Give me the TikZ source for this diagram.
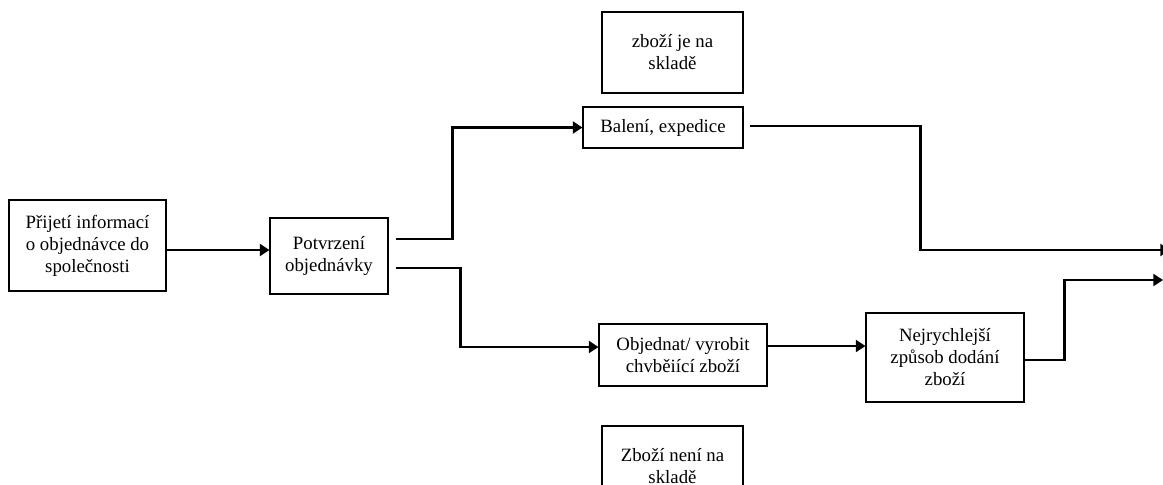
\documentclass[tikz,border=0pt]{standalone}
\usepackage{fontspec}
\setmainfont{Liberation Serif}
\usetikzlibrary{arrows.meta,positioning,calc}
\tikzset{
  stepbox/.style={draw=black, line width=0.6pt, inner sep=0pt,
    align=center, font=\fontsize{10.7}{12.5}\selectfont},
  flow/.style={-{Triangle[length=5.5pt,width=6.8pt]}, line width=1.45pt},
  plain/.style={line width=1.45pt}
}
\begin{document}
\begin{tikzpicture}[x=0.02cm, y=-0.02cm]
  \useasboundingbox (0,0) rectangle (1163,484);

  \node[stepbox, minimum width=3.14cm, minimum height=1.82cm] (prijeti) at (87.5,245.5)
    {Přijetí informací\\o objednávce do\\společnosti};
  \node[stepbox, minimum width=2.36cm, minimum height=1.52cm] (potvrzeni) at (329,256)
    {Potvrzení\\objednávky};
  \node[stepbox, minimum width=2.82cm, minimum height=1.62cm] (sklad) at (672.5,52.5)
    {zboží je na\\skladě};
  \node[stepbox, minimum width=3.2cm, minimum height=0.82cm] (baleni) at (663,127.5)
    {Balení, expedice};
  \node[stepbox, minimum width=3.36cm, minimum height=1.24cm] (objednat) at (683,355)
    {Objednat/ vyrobit\\chvběiící zboží};
  \node[stepbox, minimum width=3.16cm, minimum height=1.78cm] (nejrychlejsi) at (945,357.5)
    {Nejrychlejší\\způsob dodání\\zboží};
  \node[stepbox, minimum width=2.82cm, minimum height=1.62cm] (neni) at (672.5,466.5)
    {Zboží není na\\skladě};

  \coordinate (vystup1) at (1170,250);
  \coordinate (vystup2) at (1163,280);

  \draw[flow] (prijeti.east |- 0,250) -- (potvrzeni.west |- 0,250);
  \draw[flow] ($(potvrzeni.east)+(7,-17)$) -- ++(57,0) |- (baleni.west);
  \draw[flow] ($(potvrzeni.east)+(7,12)$) -- ++(65,0) |- ($(objednat.west)+(0,-8)$);
  \draw[flow] ($(objednat.east)+(0,-9)$) -- ($(nejrychlejsi.west)+(0,-11.5)$);
  \draw[flow] ($(baleni.east)+(6,-1.5)$) -- ++(171,0) |- (vystup1);
  \draw[flow] ($(nejrychlejsi.east)+(0,2.5)$) -- ++(40,0) |- (vystup2);
\end{tikzpicture}
\end{document}
